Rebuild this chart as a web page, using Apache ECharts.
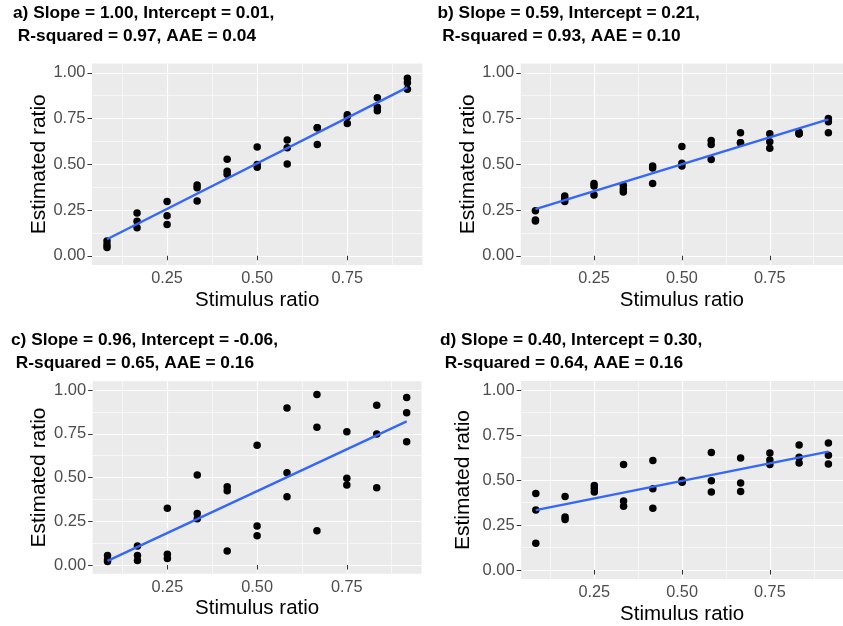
<!DOCTYPE html>
<html>
<head>
<meta charset="utf-8">
<script src="https://cdn.jsdelivr.net/npm/echarts@6/dist/echarts.min.js"></script>
<style>
html,body{margin:0;padding:0;background:#fff;}
#chart{width:843px;height:626px;}
</style>
</head>
<body>
<div id="chart"></div>
<script>
// ---- data ----
const stimulus = [0.0833, 0.1667, 0.25, 0.3333, 0.4167, 0.5, 0.5833, 0.6667, 0.75, 0.8333, 0.9167];

const estA = [[0.08,0.06,0.045],[0.233,0.189,0.153],[0.297,0.219,0.171],[0.386,0.372,0.299],
  [0.528,0.462,0.445],[0.594,0.499,0.483],[0.632,0.59,0.501],[0.70,0.70,0.608],
  [0.77,0.76,0.723],[0.863,0.811,0.792],[0.97,0.945,0.91]];
const estB = [[0.246,0.195,0.19],[0.326,0.311,0.297],[0.395,0.381,0.332],[0.385,0.365,0.348],
  [0.49,0.479,0.395],[0.597,0.505,0.49],[0.63,0.608,0.526],[0.672,0.617,0.617],
  [0.667,0.623,0.587],[0.675,0.665,0.668],[0.75,0.732,0.672]];
const estC = [[0.055,0.03,0.02],[0.109,0.055,0.026],[0.325,0.062,0.038],[0.515,0.295,0.265],
  [0.447,0.425,0.081],[0.685,0.223,0.168],[0.898,0.528,0.391],[0.975,0.787,0.196],
  [0.762,0.496,0.457],[0.913,0.749,0.442],[0.957,0.87,0.704]];
const estD = [[0.425,0.334,0.148],[0.409,0.294,0.281],[0.469,0.453,0.434],[0.586,0.383,0.354],
  [0.608,0.451,0.343],[0.498,0.492,0.487],[0.653,0.496,0.434],[0.622,0.484,0.436],
  [0.65,0.611,0.586],[0.695,0.626,0.595],[0.706,0.637,0.589]];

// fitted line values at first and last stimulus ratio
const fitA = [0.09, 0.92];
const fitB = [0.255, 0.745];
const fitC = [0.024, 0.821];
const fitD = [0.333, 0.658];

const titles = [
  "a) Slope = 1.00, Intercept = 0.01,\n R-squared = 0.97, AAE = 0.04",
  "b) Slope = 0.59, Intercept = 0.21,\n R-squared = 0.93, AAE = 0.10",
  "c) Slope = 0.96, Intercept = -0.06,\n R-squared = 0.65, AAE = 0.16",
  "d) Slope = 0.40, Intercept = 0.30,\n R-squared = 0.64, AAE = 0.16"
];
const xMajorTicks = [0.25, 0.5, 0.75];
const xMinorTicks = [0.125, 0.375, 0.625, 0.875];
const yMajorTicks = [0, 0.25, 0.5, 0.75, 1];
const yMinorTicks = [0.125, 0.375, 0.625, 0.875];
const xLabel = "Stimulus ratio";
const yLabel = "Estimated ratio";

// ---- layout ----
const FONT = "'Liberation Sans', Arial, sans-serif";
const xRange = [0.0417, 0.9583];
const yRange = [-0.05, 1.05];
const grids = [
  {left: 92, top: 63.6, width: 330.4, height: 201.3},
  {left: 520.8, top: 63.6, width: 331, height: 201.3},
  {left: 92.6, top: 381.3, width: 329, height: 192.5},
  {left: 521.2, top: 381, width: 330, height: 199.9}
];
const titlePos = [
  {left: 13, top: 1.6}, {left: 437.5, top: 1.6},
  {left: 11, top: 328.3}, {left: 440, top: 328.3}
];
const yNameGap = [41, 41, 38, 47];
const xNameGap = [25, 25, 24.5, 25];
const ests = [estA, estB, estC, estD];
const fits = [fitA, fitB, fitC, fitD];

const xAxes = [], yAxes = [], series = [], titleOpts = [], gridOpts = [];
grids.forEach((g, i) => {
  gridOpts.push(Object.assign({show: true, backgroundColor: '#EBEBEB', borderWidth: 0, containLabel: false}, g));
  titleOpts.push({
    text: titles[i], left: titlePos[i].left, top: titlePos[i].top, padding: 0,
    textStyle: {fontFamily: FONT, fontSize: 17.3, fontWeight: 'bold', color: '#000', lineHeight: 23.4}
  });
  xAxes.push({
    type: 'value', gridIndex: i, min: xRange[0], max: xRange[1],
    axisLine: {show: false},
    axisTick: {show: true, length: 4.5, customValues: xMajorTicks, lineStyle: {color: '#333333', width: 1}},
    axisLabel: {customValues: xMajorTicks, formatter: v => v.toFixed(2), color: '#4D4D4D', fontSize: 16.3, fontFamily: FONT, margin: 6},
    splitLine: {show: true, lineStyle: {color: '#FFFFFF', width: 1.2}},
    name: xLabel, nameLocation: 'middle', nameGap: xNameGap[i],
    nameTextStyle: {fontFamily: FONT, fontSize: 20.5, color: '#000'}
  });
  xAxes.push({
    type: 'value', gridIndex: i, min: xRange[0], max: xRange[1],
    axisLine: {show: false},
    axisTick: {show: false, customValues: xMinorTicks},
    axisLabel: {show: false, customValues: xMinorTicks},
    splitLine: {show: true, lineStyle: {color: '#FFFFFF', width: 0.6}}
  });
  yAxes.push({
    type: 'value', gridIndex: i, min: yRange[0], max: yRange[1],
    axisLine: {show: false},
    axisTick: {show: true, length: 4.5, customValues: yMajorTicks, lineStyle: {color: '#333333', width: 1}},
    axisLabel: {customValues: yMajorTicks, formatter: v => v.toFixed(2), color: '#4D4D4D', fontSize: 16.5, fontFamily: FONT, margin: 6.5},
    splitLine: {show: true, lineStyle: {color: '#FFFFFF', width: 1.2}},
    name: yLabel, nameLocation: 'middle', nameGap: yNameGap[i],
    nameTextStyle: {fontFamily: FONT, fontSize: 21, color: '#000'}
  });
  yAxes.push({
    type: 'value', gridIndex: i, min: yRange[0], max: yRange[1],
    axisLine: {show: false},
    axisTick: {show: false, customValues: yMinorTicks},
    axisLabel: {show: false, customValues: yMinorTicks},
    splitLine: {show: true, lineStyle: {color: '#FFFFFF', width: 0.6}}
  });
  const pts = [];
  stimulus.forEach((s, k) => ests[i][k].forEach(v => pts.push([s, v])));
  series.push({
    type: 'scatter', xAxisIndex: 2 * i, yAxisIndex: 2 * i, data: pts,
    symbolSize: 7.5, itemStyle: {color: '#000000', opacity: 1}, silent: true, z: 3
  });
  series.push({
    type: 'line', xAxisIndex: 2 * i, yAxisIndex: 2 * i,
    data: [[stimulus[0], fits[i][0]], [stimulus[stimulus.length - 1], fits[i][1]]],
    symbol: 'none', lineStyle: {color: '#3366FF', width: 2.3}, silent: true, z: 4
  });
});

const chart = echarts.init(document.getElementById('chart'), null, {renderer: 'canvas'});
chart.setOption({
  backgroundColor: '#FFFFFF',
  animation: false,
  title: titleOpts,
  grid: gridOpts,
  xAxis: xAxes,
  yAxis: yAxes,
  series: series
});
</script>
</body>
</html>
